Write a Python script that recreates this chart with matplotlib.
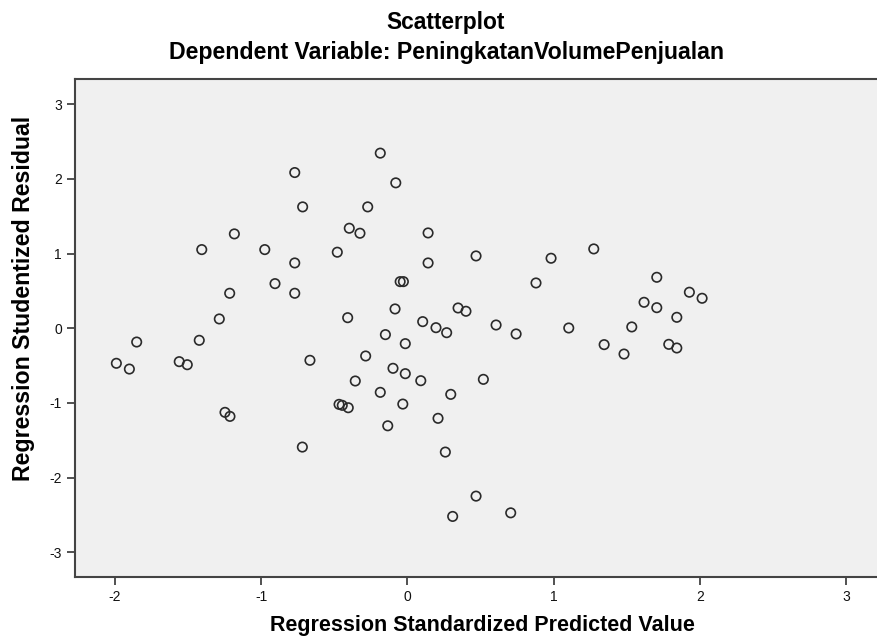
import numpy as np
import matplotlib
matplotlib.use('Agg')
import matplotlib.pyplot as plt

plt.rcParams['font.family'] = ['Liberation Sans', 'DejaVu Sans']
plt.rcParams['axes.unicode_minus'] = False

title = 'Scatterplot'
subtitle = 'Dependent Variable: PeningkatanVolumePenjualan'
x_label = 'Regression Standardized Predicted Value'
y_label = 'Regression Studentized Residual'

# standardized predicted value (x) and studentized residual (y)
pred = [-0.185, -0.770, -0.079, -0.716, -0.271, -0.397, -0.324, -1.183, 0.142, -1.406,
        -0.975, -0.479, -0.770, 0.142, -0.049, -0.027, -0.905, -1.215, -0.770, -0.084,
        -1.286, -0.408, 0.105, 0.196, 0.269, 0.470, 0.983, 1.275, 0.880, 1.706,
        1.929, 2.016, 1.619, 1.706, 1.843, 0.347, 0.401, 0.607, 0.744, 1.104,
        1.535, 1.346, 1.482, 1.788, 1.843, 0.520, 0.297, 0.210, 0.260, 0.470,
        0.310, 0.707, -1.851, -1.990, -1.901, -1.423, -1.560, -1.505, -1.247, -1.213,
        -0.666, -0.718, -0.467, -0.445, -0.404, -0.356, -0.285, -0.150, -0.014, -0.098,
        -0.014, 0.092, -0.185, -0.031, -0.134]
resid = [2.346, 2.086, 1.948, 1.626, 1.626, 1.340, 1.273, 1.264, 1.277, 1.054,
         1.054, 1.019, 0.875, 0.875, 0.625, 0.625, 0.598, 0.469, 0.469, 0.259,
         0.125, 0.142, 0.089, 0.008, -0.059, 0.969, 0.938, 1.063, 0.607, 0.683,
         0.483, 0.402, 0.348, 0.276, 0.147, 0.272, 0.228, 0.044, -0.076, 0.004,
         0.018, -0.219, -0.345, -0.215, -0.264, -0.684, -0.885, -1.206, -1.658, -2.248,
         -2.520, -2.472, -0.184, -0.469, -0.546, -0.161, -0.447, -0.488, -1.126, -1.180,
         -0.429, -1.591, -1.019, -1.032, -1.064, -0.706, -0.371, -0.085, -0.206, -0.536,
         -0.608, -0.702, -0.858, -1.015, -1.306]

x_ticks = [-2, -1, 0, 1, 2, 3]
y_ticks = [-3, -2, -1, 0, 1, 2, 3]

fig = plt.figure(figsize=(8.78, 6.36), dpi=100)
ax = fig.add_axes([0.0854, 0.0928, 0.9146, 0.783])
ax.set_facecolor('#f0f0f0')

ax.scatter(pred, resid, s=46, facecolors='none', edgecolors='#2a2a2a', linewidths=1.2)

ax.set_xlim(-2.273, 3.219)
ax.set_ylim(-3.331, 3.339)
ax.set_xticks(x_ticks)
ax.set_yticks(y_ticks)
ax.tick_params(labelsize=10, length=6, width=1.2, color='#333333', labelcolor='#111111')

for side in ['left', 'bottom', 'top']:
    ax.spines[side].set_color('#444444')
    ax.spines[side].set_linewidth(1.5)
ax.spines['right'].set_visible(False)

fig.text(0.508, 0.964, title, ha='center', va='center', fontsize=16.4, fontweight='bold')
fig.text(0.508, 0.917, subtitle, ha='center', va='center', fontsize=16.7, fontweight='bold')
fig.text(0.549, 0.017, x_label, ha='center', va='center', fontsize=15.5, fontweight='bold')
fig.text(0.027, 0.531, y_label, ha='center', va='center', rotation=90, fontsize=16.7, fontweight='bold')

plt.savefig('out.png', dpi=100)
